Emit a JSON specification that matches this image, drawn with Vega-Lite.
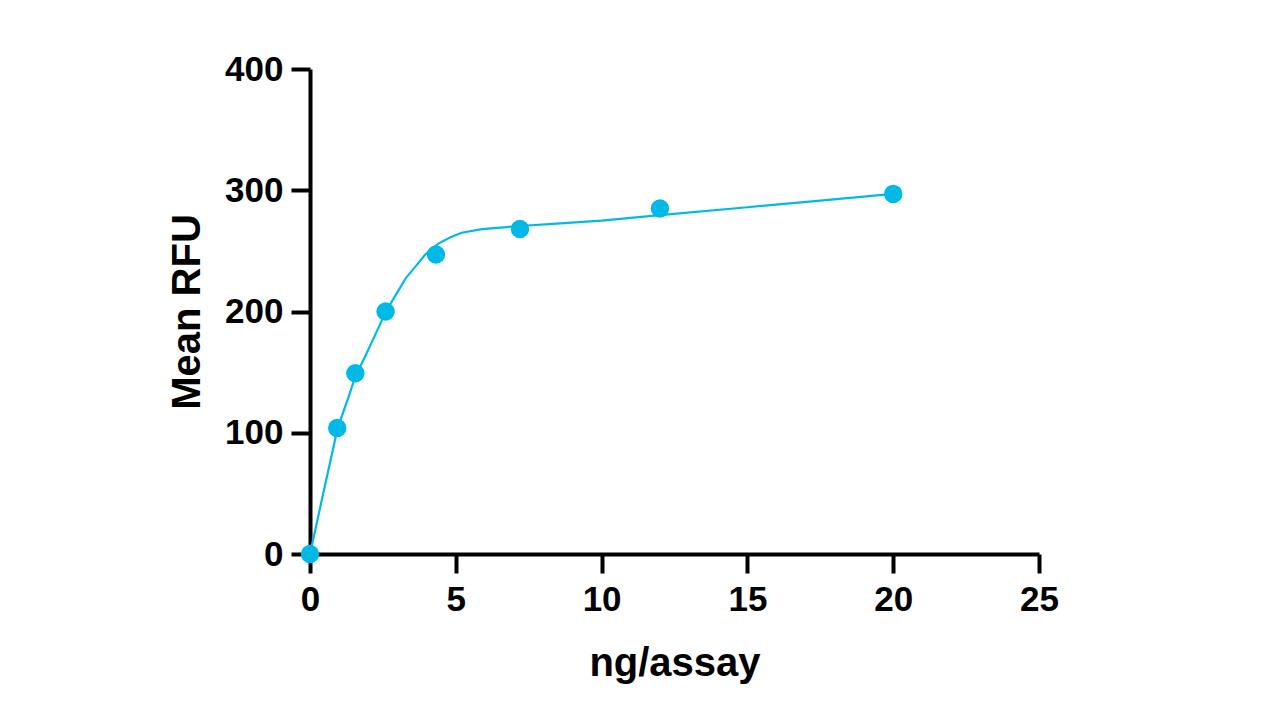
{
  "$schema": "https://vega.github.io/schema/vega-lite/v6.json",
  "width": 729,
  "height": 485,
  "autosize": {"type": "none"},
  "padding": {"left": 310, "top": 69, "right": 241, "bottom": 166},
  "background": "white",
  "config": {
    "view": {"stroke": null},
    "axis": {
      "grid": false,
      "domainColor": "black",
      "domainWidth": 4,
      "tickColor": "black",
      "tickWidth": 4,
      "tickSize": 19,
      "labelFont": "Liberation Sans",
      "labelFontWeight": "bold",
      "labelFontSize": 35,
      "labelColor": "black",
      "labelFlush": false,
      "labelOverlap": false,
      "titleFont": "Liberation Sans",
      "titleFontWeight": "bold",
      "titleFontSize": 40,
      "titleColor": "black"
    }
  },
  "datasets": {
    "points": [
      {"x": 0, "y": 0},
      {"x": 0.933, "y": 104},
      {"x": 1.555, "y": 149},
      {"x": 2.592, "y": 200},
      {"x": 4.32, "y": 247},
      {"x": 7.2, "y": 268},
      {"x": 12, "y": 285},
      {"x": 20, "y": 297}
    ],
    "curve": [
      {"x": 0, "y": 0},
      {"x": 0.5, "y": 55},
      {"x": 0.95, "y": 104},
      {"x": 1.3, "y": 128},
      {"x": 1.55, "y": 146},
      {"x": 1.95, "y": 166},
      {"x": 2.3, "y": 184},
      {"x": 2.6, "y": 200},
      {"x": 3.0, "y": 216},
      {"x": 3.3, "y": 228},
      {"x": 3.65, "y": 238},
      {"x": 3.95, "y": 247},
      {"x": 4.4, "y": 256},
      {"x": 4.8, "y": 261},
      {"x": 5.2, "y": 265},
      {"x": 5.9, "y": 268},
      {"x": 7.2, "y": 270.5},
      {"x": 8.2, "y": 272},
      {"x": 10, "y": 275},
      {"x": 12, "y": 279.5},
      {"x": 15, "y": 286},
      {"x": 17.5, "y": 291.5},
      {"x": 20, "y": 297}
    ]
  },
  "layer": [
    {
      "data": {"name": "curve"},
      "mark": {"type": "line", "color": "#00B9E7", "strokeWidth": 2.2},
      "encoding": {
        "x": {
          "field": "x", "type": "quantitative",
          "scale": {"domain": [0, 25], "nice": false},
          "axis": {"values": [0, 5, 10, 15, 20, 25], "title": "ng/assay", "labelPadding": 9, "titlePadding": 26}
        },
        "y": {
          "field": "y", "type": "quantitative",
          "scale": {"domain": [0, 400], "nice": false},
          "axis": {"values": [0, 100, 200, 300, 400], "title": "Mean RFU", "labelPadding": 8, "titlePadding": 17}
        }
      }
    },
    {
      "data": {"name": "points"},
      "mark": {"type": "point", "filled": true, "shape": "circle", "size": 340, "color": "#00B9E7", "opacity": 1},
      "encoding": {
        "x": {"field": "x", "type": "quantitative"},
        "y": {"field": "y", "type": "quantitative"}
      }
    }
  ]
}
